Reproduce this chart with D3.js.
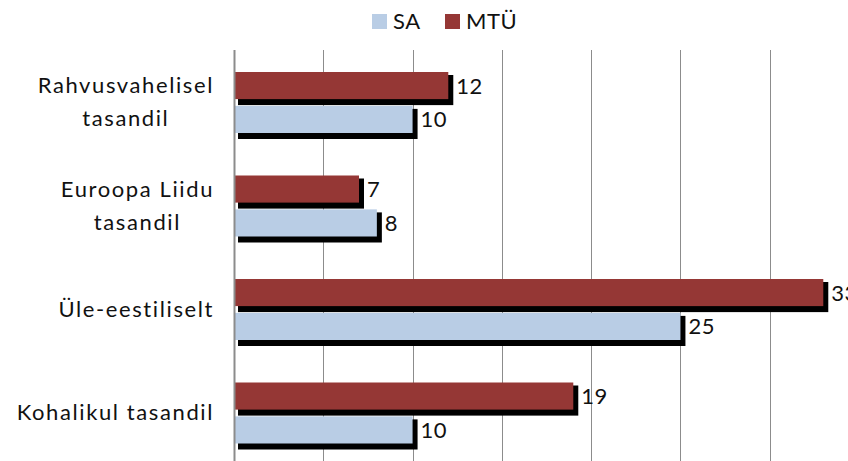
<!DOCTYPE html>
<html lang="et">
<head>
<meta charset="utf-8">
<title>SA ja MTÜ tasandid</title>
<script src="https://cdn.jsdelivr.net/npm/d3@7"></script>
<style>
  html, body { margin: 0; padding: 0; background: #fff; overflow: hidden; }
  text { font-family: Lato, "Open Sans", sans-serif; fill: #111; }
  .cat { font-size: 22px; letter-spacing: 1.6px; }
  .val { font-size: 22px; letter-spacing: 0.5px; }
  .leg { font-size: 22px; letter-spacing: 0.5px; }
</style>
</head>
<body>
<div id="chart"></div>
<script>
// categories top to bottom, label lines as they wrap in the chart
var categories = ["Rahvusvahelisel tasandil", "Euroopa Liidu tasandil", "Üle-eestiliselt", "Kohalikul tasandil"];
var catLines = [["Rahvusvahelisel", "tasandil"], ["Euroopa Liidu", "tasandil"], ["Üle-eestiliselt"], ["Kohalikul tasandil"]];
var seriesNames = ["MTÜ", "SA"];
var mtuValues = [12, 7, 33, 19];
var saValues = [10, 8, 25, 10];
var gridTicks = [0, 5, 10, 15, 20, 25, 30, 35];

var w = 848, h = 461;
var colors = { "MTÜ": "#953735", "SA": "#b9cde5" };

var svg = d3.select("#chart").append("svg")
    .attr("width", w)
    .attr("height", h);

var x = d3.scaleLinear().domain([0, 35]).range([234, 859]);
var y = d3.scaleBand().domain(categories).range([50, 464]);
var inner = d3.scaleBand().domain(seriesNames).range([22, 83]).paddingInner(0.2);

// gridlines
svg.append("g").selectAll("line")
    .data(gridTicks.slice(1))
    .enter().append("line")
    .attr("x1", function(d) { return Math.round(x(d)) + 0.5; })
    .attr("x2", function(d) { return Math.round(x(d)) + 0.5; })
    .attr("y1", 50).attr("y2", h)
    .attr("stroke", "#8c8c8c").attr("stroke-width", 1);

// rows of data
var rows = [];
categories.forEach(function(c, i) {
  rows.push({ cat: c, s: "MTÜ", v: mtuValues[i] });
  rows.push({ cat: c, s: "SA", v: saValues[i] });
});

var bars = svg.append("g");
// shadows
bars.selectAll("rect.shadow")
    .data(rows).enter().append("rect")
    .attr("class", "shadow")
    .attr("x", x(0) + 4)
    .attr("y", function(d) { return y(d.cat) + inner(d.s) + 3; })
    .attr("width", function(d) { return x(d.v) - x(0) + 1; })
    .attr("height", inner.bandwidth() + 3)
    .attr("fill", "#000");

bars.selectAll("rect.bar")
    .data(rows).enter().append("rect")
    .attr("class", "bar")
    .attr("x", x(0))
    .attr("y", function(d) { return y(d.cat) + inner(d.s); })
    .attr("width", function(d) { return x(d.v) - x(0); })
    .attr("height", inner.bandwidth())
    .attr("fill", function(d) { return colors[d.s]; });

// value labels
svg.append("g").selectAll("text")
    .data(rows).enter().append("text")
    .attr("class", "val")
    .attr("x", function(d) { return x(d.v) + 8; })
    .attr("y", function(d) { return y(d.cat) + inner(d.s) + inner.bandwidth() / 2 + 8; })
    .text(function(d) { return d.v; });

// axis line
svg.append("line")
    .attr("x1", 234.5).attr("x2", 234.5)
    .attr("y1", 50).attr("y2", h)
    .attr("stroke", "#8c8c8c").attr("stroke-width", 2);

// category labels, lines centred, block right-aligned
var catG = svg.append("g");
categories.forEach(function(c, i) {
  var lines = catLines[i];
  var g = catG.append("g");
  var texts = g.selectAll("text").data(lines).enter().append("text")
      .attr("class", "cat")
      .attr("text-anchor", "middle")
      .text(function(d) { return d; });
  var maxW = 0;
  texts.each(function() { maxW = Math.max(maxW, this.getComputedTextLength()); });
  var cy = y(c) + y.bandwidth() / 2 + 8;
  var lh = 33;
  texts.attr("x", 214 - maxW / 2)
      .attr("y", function(d, j) { return cy + (j - (lines.length - 1) / 2) * lh; });
});

// legend
var legend = svg.append("g");
var legItems = [{ s: "SA", x: 372 }, { s: "MTÜ", x: 445 }];
legItems.forEach(function(it) {
  legend.append("rect")
      .attr("x", it.x).attr("y", 14)
      .attr("width", 15).attr("height", 15)
      .attr("fill", colors[it.s]);
  legend.append("text")
      .attr("class", "leg")
      .attr("x", it.x + 21).attr("y", 29)
      .text(it.s);
});
</script>
</body>
</html>
